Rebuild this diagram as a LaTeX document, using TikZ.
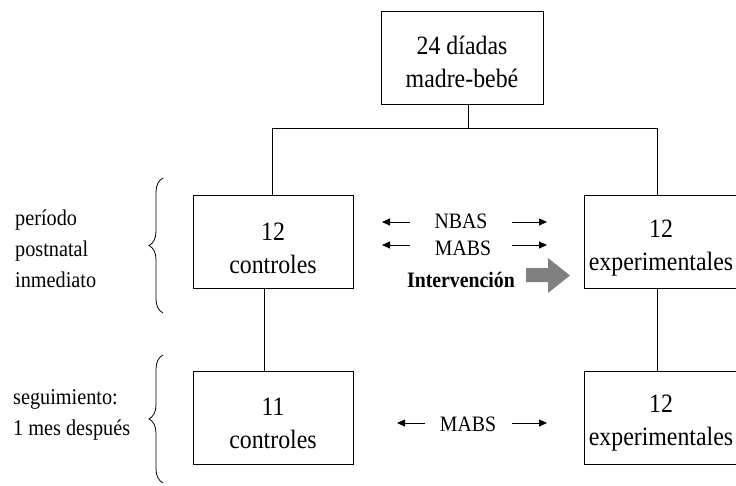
\documentclass[tikz,border=0pt]{standalone}
\usepackage{fontspec}
\setmainfont[FakeStretch=0.9]{Liberation Serif}
\usetikzlibrary{decorations.pathreplacing,arrows.meta}
\definecolor{arrgray}{RGB}{128,128,128}
\begin{document}
\begin{tikzpicture}[x=1pt,y=-1pt,
 box/.style={draw,line width=1pt,minimum height=93pt,inner sep=0pt},
 boxtext/.style={align=center,font=\fontsize{26.5}{33}\selectfont,inner sep=0pt},
 conn/.style={line width=0.9pt},
 side/.style={anchor=west,align=left,font=\fontsize{22.5}{31}\selectfont,inner sep=0pt},
 mid/.style={font=\fontsize{22}{24}\selectfont,inner sep=0pt},
 dbl/.style={-{Triangle[length=8pt,width=7pt]},line width=0.9pt},
 brc/.style={decorate,decoration={brace,amplitude=14pt,aspect=0.5},line width=0.8pt}]
\useasboundingbox (0,0) rectangle (736,485);

% boxes
\node[box,minimum width=162pt] (top) at (462,57.5) {};
\node[box,minimum width=160pt] (c1) at (273,242) {};
\node[box,minimum width=154pt] (e1) at (661,242) {};
\node[box,minimum width=160pt] (c2) at (273,417.5) {};
\node[box,minimum width=154pt] (e2) at (661,417.5) {};
\node[boxtext] (topt) at ([yshift=-4pt]top.center) {24 díadas\\madre-bebé};
\node[boxtext] (c1t) at ([yshift=-6pt]c1.center) {12\\controles};
\node[boxtext] (e1t) at ([yshift=-6pt]e1.center) {12\\experimentales};
\node[boxtext] (c2t) at ([yshift=-6pt]c2.center) {11\\controles};
\node[boxtext] (e2t) at ([yshift=-6pt]e2.center) {12\\experimentales};

% tree connectors
\coordinate (j) at (468,128);
\coordinate (jl) at (272,128);
\coordinate (jr) at (657,128);
\draw[conn] (top.south -| j) -- (j);
\draw[conn] (jl) -- (jr);
\draw[conn] (jl) -- (jl |- c1.north);
\draw[conn] (jr) -- (jr |- e1.north);
\coordinate (vl) at (264,300);
\coordinate (vr) at (657,300);
\draw[conn] (vl |- c1.south) -- (vl |- c2.north);
\draw[conn] (vr |- e1.south) -- (vr |- e2.north);

% side labels
\node[side] (s1) at (15,249) {período\\postnatal\\inmediato};
\node[side] (s2) at (13,415) {seguimiento:\\1 mes después};

% braces
\coordinate (b1a) at (163,313);
\coordinate (b1b) at (163,178);
\coordinate (b2a) at (163,483);
\coordinate (b2b) at (163,355);
\draw[brc] (b1a) -- (b1b);
\draw[brc] (b2a) -- (b2b);

% middle labels
\node[mid] (nbas) at (461,221) {NBAS};
\node[mid] (mabs) at (463,248) {MABS};
\node[mid,font=\fontsize{22}{24}\selectfont\bfseries] (interv) at (461,280) {Intervención};
\node[mid] (mabs2) at (468,424) {MABS};

\coordinate (n1) at (410,222); \coordinate (n1t) at (382,222);
\coordinate (n2) at (512,222); \coordinate (n2t) at (547,222);
\coordinate (m1) at (410,245); \coordinate (m1t) at (382,245);
\coordinate (m2) at (512,245); \coordinate (m2t) at (547,245);
\coordinate (p1) at (425,423); \coordinate (p1t) at (397,423);
\coordinate (p2) at (512,423); \coordinate (p2t) at (547,423);
\draw[dbl] (n1) -- (n1t);
\draw[dbl] (n2) -- (n2t);
\draw[dbl] (m1) -- (m1t);
\draw[dbl] (m2) -- (m2t);
\draw[dbl] (p1) -- (p1t);
\draw[dbl] (p2) -- (p2t);

% block arrow
\fill[arrgray] (526,268) -- (548,268) -- (548,258) -- (570,275.5) -- (548,293) -- (548,282) -- (526,282) -- cycle;
\end{tikzpicture}
\end{document}
